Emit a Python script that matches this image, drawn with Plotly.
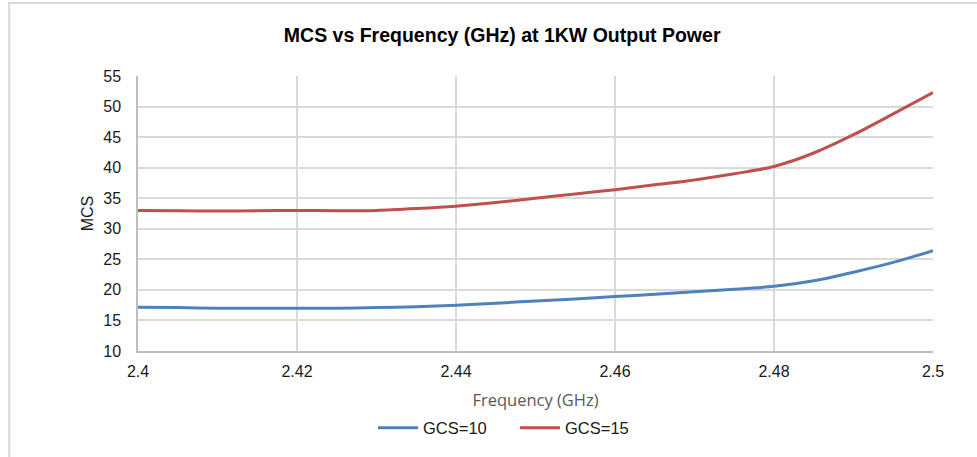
import plotly.graph_objects as go

# Frequency points (GHz)
freq = [2.400, 2.405, 2.410, 2.415, 2.420, 2.425, 2.430, 2.435, 2.440, 2.445, 2.450,
        2.455, 2.460, 2.465, 2.470, 2.475, 2.480, 2.485, 2.490, 2.495, 2.500]

# MCS values
mcs_gcs10 = [17.15, 17.1, 17.0, 17.0, 17.0, 17.0, 17.1, 17.25, 17.5, 17.8, 18.2,
             18.5, 18.9, 19.3, 19.7, 20.1, 20.6, 21.5, 22.9, 24.5, 26.4]
mcs_gcs15 = [33.0, 32.95, 32.9, 32.95, 33.0, 32.95, 33.0, 33.3, 33.7, 34.3, 35.0,
             35.7, 36.4, 37.2, 38.0, 39.0, 40.2, 42.4, 45.4, 48.8, 52.3]

x_ticks = [2.40, 2.42, 2.44, 2.46, 2.48, 2.50]
x_ticktext = ['2.4', '2.42', '2.44', '2.46', '2.48', '2.5']

fig = go.Figure()

fig.add_trace(go.Scatter(
    x=freq, y=mcs_gcs10, mode='lines', name='GCS=10',
    line=dict(color='#4F81BD', width=3, shape='spline', smoothing=0.8)
))
fig.add_trace(go.Scatter(
    x=freq, y=mcs_gcs15, mode='lines', name='GCS=15',
    line=dict(color='#C0504D', width=3, shape='spline', smoothing=0.8)
))

tick_font = dict(family='Liberation Sans, Arial', size=16, color='#1a1a1a')

fig.update_xaxes(
    range=[2.4, 2.5],
    tickvals=x_ticks, ticktext=x_ticktext,
    tickfont=tick_font,
    showgrid=True, gridcolor='#d9d9d9', gridwidth=1.5,
    showline=True, linecolor='#bfbfbf', linewidth=1.5,
    zeroline=False, ticks='', ticklabelstandoff=5,
    title=dict(text='Frequency (GHz)', standoff=15,
               font=dict(family='Open Sans, Noto Sans', size=16.5, color='#595959'))
)
fig.update_yaxes(
    range=[10, 55], dtick=5,
    tickfont=tick_font,
    showgrid=True, gridcolor='#d9d9d9', gridwidth=1.5,
    showline=True, linecolor='#bfbfbf', linewidth=1.5,
    zeroline=False, ticks='', ticklabelstandoff=12,
    title=dict(text='MCS', standoff=6,
               font=dict(family='Liberation Sans, Arial', size=16, color='#1a1a1a'))
)

# light chart-area border (left and top edges visible in the crop)
fig.add_shape(type='rect', xref='paper', yref='paper',
              x0=-0.162, x1=1.2, y0=-0.5, y1=1.2655,
              line=dict(color='#d9d9d9', width=2), fillcolor='rgba(0,0,0,0)',
              layer='below')

fig.update_layout(
    width=977, height=457,
    margin=dict(l=138, r=44, t=76, b=106),
    paper_bgcolor='white', plot_bgcolor='white',
    title=dict(text='<b>MCS vs Frequency (GHz) at 1KW Output Power</b>',
               x=0.514, xanchor='center', y=0.923, yanchor='middle',
               font=dict(family='Liberation Sans, Arial', size=19.5, color='#000000')),
    showlegend=True,
    legend=dict(orientation='h', x=0.4742, xanchor='center', y=-0.28, yanchor='middle',
                font=dict(family='Liberation Sans, Arial', size=16.5, color='#1a1a1a'),
                entrywidth=87, entrywidthmode='pixels',
                itemwidth=40, bgcolor='rgba(0,0,0,0)')
)

fig.write_html("out.html", config={'displayModeBar': False},
               post_script="document.body.style.margin='0px';")
